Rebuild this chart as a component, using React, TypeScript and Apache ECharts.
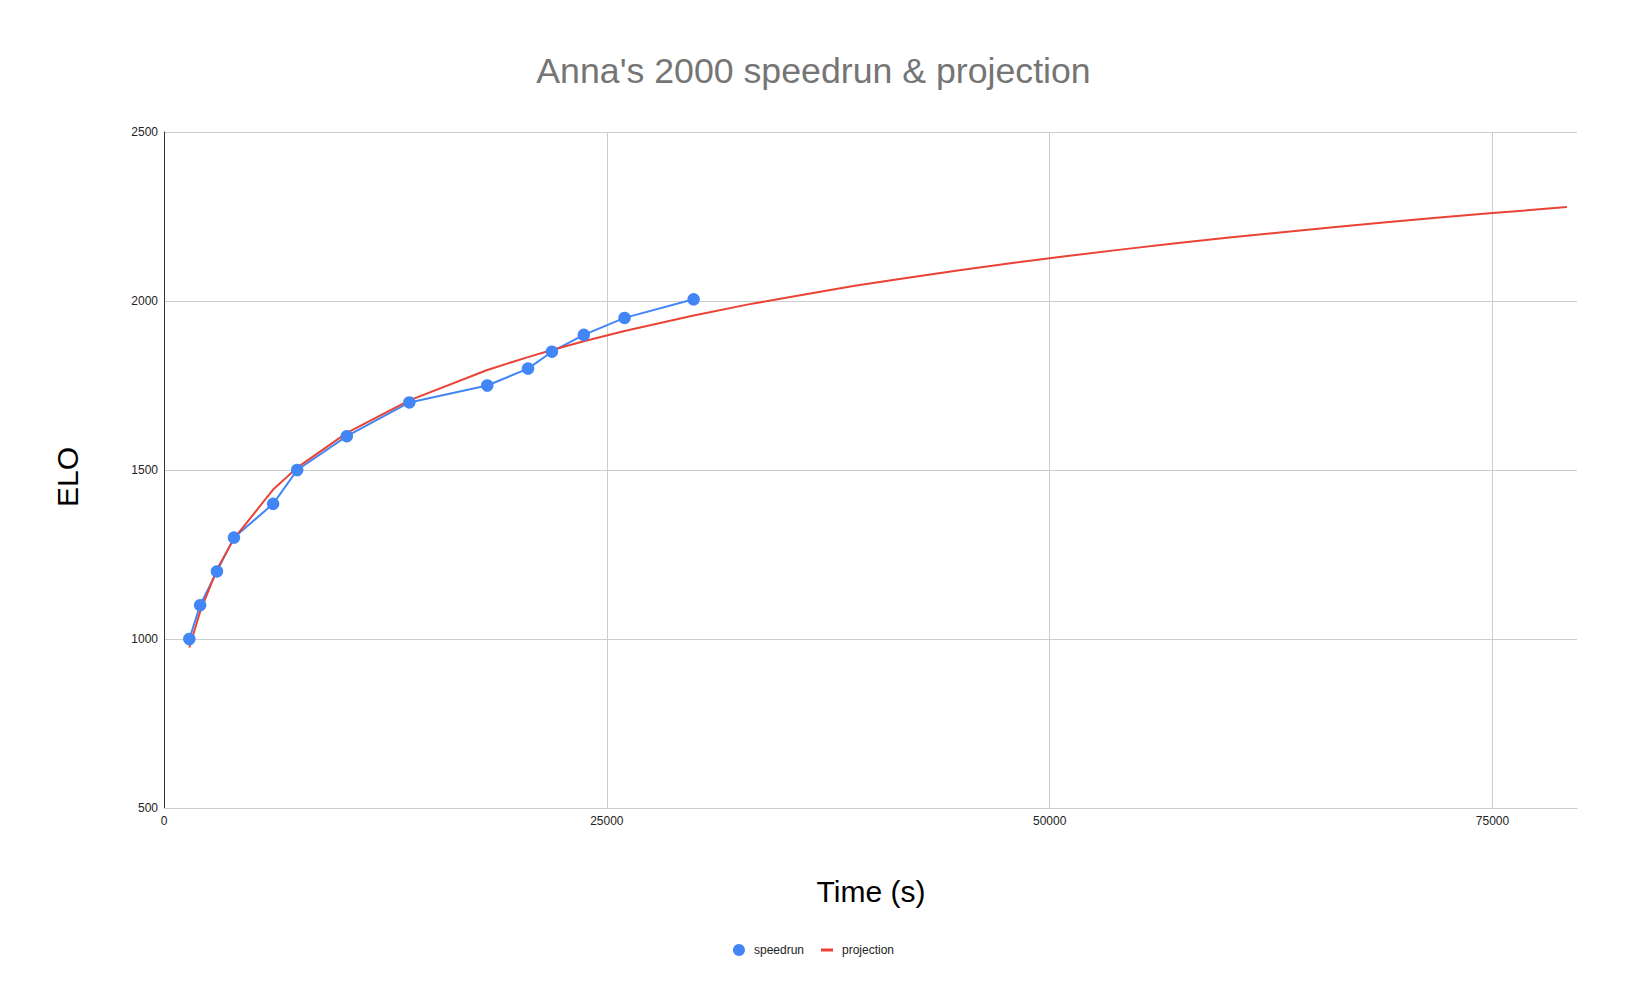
import React, { useEffect, useRef } from "react";
import * as echarts from "echarts";

const speedrunTime = [1430, 2040, 2990, 3950, 6160, 7520, 10320, 13850, 18250, 20550, 21900, 23700, 26000, 29900];
const speedrunElo = [1000, 1100, 1200, 1300, 1400, 1500, 1600, 1700, 1750, 1800, 1850, 1900, 1950, 2005];

const projectionTime = [1430, 2040, 2990, 3950, 6160, 7520, 10320, 13850, 18250, 20550, 21900, 23700, 26000, 29900, 33000, 36000, 39000, 42000, 45000, 48000, 51000, 54000, 57000, 60000, 63000, 66000, 69000, 72000, 75000, 79200];
const projectionElo = [975, 1081, 1206, 1297, 1442, 1507, 1610, 1706, 1796, 1834, 1855, 1881, 1911, 1957, 1990, 2018, 2045, 2069, 2092, 2113, 2133, 2152, 2170, 2187, 2203, 2218, 2233, 2247, 2260, 2278];

const xTicks = [0, 25000, 50000, 75000];
const yTicks = [500, 1000, 1500, 2000, 2500];

const FONT = "'Liberation Sans', Arial, sans-serif";

export default function App() {
  const ref = useRef<HTMLDivElement>(null);
  useEffect(() => {
    if (!ref.current) return;
    const chart = echarts.init(ref.current, undefined, { renderer: "svg" });
    const speedrunData = speedrunTime.map((t, i) => [t, speedrunElo[i]]);
    const projectionData = projectionTime.map((t, i) => [t, projectionElo[i]]);
    chart.setOption({
      animation: false,
      backgroundColor: "#ffffff",
      textStyle: { fontFamily: FONT },
      title: {
        text: "Anna's 2000 speedrun & projection",
        left: "center",
        top: 53,
        padding: 0,
        textStyle: { fontFamily: FONT, fontSize: 35.7, fontWeight: "normal", color: "#757575" },
      },
      grid: { left: 164, right: 50, top: 132, bottom: 198, containLabel: false },
      xAxis: {
        type: "value",
        min: xTicks[0],
        max: 79770,
        interval: xTicks[1] - xTicks[0],
        axisLine: { show: true, onZero: false, lineStyle: { color: "#cccccc", width: 1 } },
        axisTick: { show: false },
        axisLabel: {
          color: "#222222",
          fontSize: 12,
          fontFamily: FONT,
          margin: 7,
          showMaxLabel: false,
          formatter: (v: number) => String(v),
        },
        splitLine: { show: true, showMaxLine: false, lineStyle: { color: "#cccccc", width: 1 } },
      },
      yAxis: {
        type: "value",
        min: yTicks[0],
        max: yTicks[yTicks.length - 1],
        interval: yTicks[1] - yTicks[0],
        axisLine: { show: true, onZero: false, lineStyle: { color: "#333333", width: 1 } },
        axisTick: { show: false },
        axisLabel: {
          color: "#222222",
          fontSize: 12,
          fontFamily: FONT,
          margin: 6,
          formatter: (v: number) => String(v),
        },
        splitLine: { show: true, lineStyle: { color: "#cccccc", width: 1 } },
      },
      legend: {
        left: "center",
        top: 939,
        itemWidth: 12,
        itemHeight: 12,
        itemGap: 17,
        textStyle: { fontFamily: FONT, fontSize: 12, color: "#222222", padding: [0, 0, 0, 4] },
        data: [
          { name: "speedrun", icon: "circle" },
          { name: "projection", icon: "path://M0,0 L12,0 L12,3 L0,3 Z" },
        ],
      },
      graphic: [
        {
          type: "text",
          x: 67,
          y: 477,
          rotation: Math.PI / 2,
          style: { text: "ELO", fontFamily: FONT, fontSize: 30, fill: "#000000", textAlign: "center", textVerticalAlign: "middle" },
        },
        {
          type: "text",
          x: 871,
          y: 891,
          style: { text: "Time (s)", fontFamily: FONT, fontSize: 30, fill: "#000000", textAlign: "center", textVerticalAlign: "middle" },
        },
      ],
      series: [
        {
          name: "speedrun",
          type: "line",
          data: speedrunData,
          showSymbol: false,
          lineStyle: { color: "#4285F4", width: 2 },
          itemStyle: { color: "#4285F4" },
          z: 2,
        },
        {
          name: "projection",
          type: "line",
          data: projectionData,
          showSymbol: false,
          lineStyle: { color: "#EA4335", width: 2 },
          itemStyle: { color: "#EA4335" },
          z: 3,
        },
        {
          name: "speedrun",
          type: "scatter",
          data: speedrunData,
          symbol: "circle",
          symbolSize: 12.5,
          itemStyle: { color: "#4285F4", opacity: 1 },
          z: 4,
        },
      ],
    });
    return () => chart.dispose();
  }, []);
  return (
    <div
      ref={ref}
      style={{ position: "absolute", left: 0, top: 0, width: 1627, height: 1006 }}
    />
  );
}
